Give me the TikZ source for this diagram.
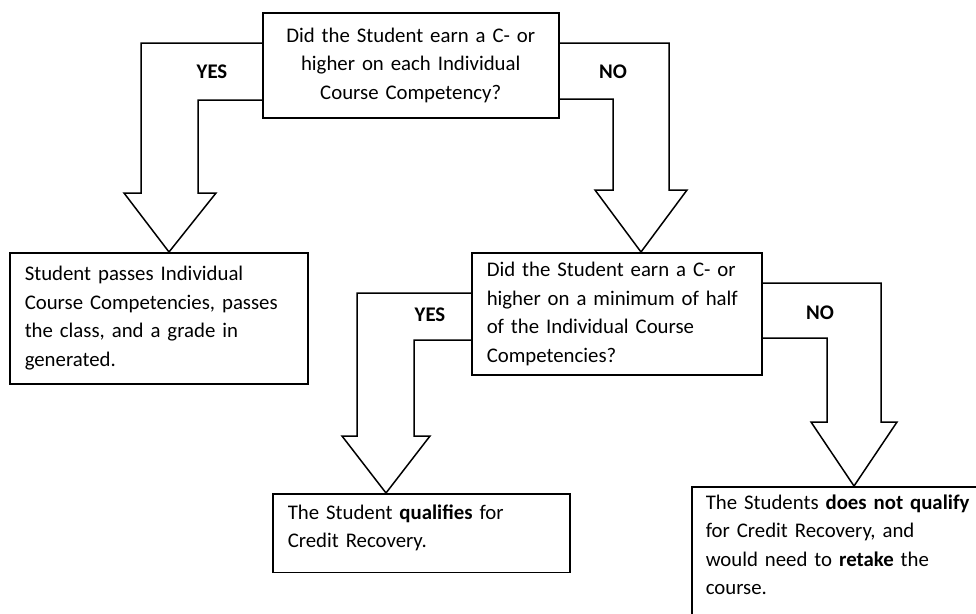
\documentclass[tikz,border=0pt]{standalone}
\usepackage{fontspec}
\setmainfont{Carlito}
\begin{document}
\begin{tikzpicture}[x=1pt,y=-1pt]
	\tikzstyle{box} = [draw, line width=1.5pt, rectangle, anchor=north west, inner xsep=15pt, align=left, font=\fontsize{20.8}{28.5}\selectfont]
	\tikzstyle{blk} = [line width=1.5pt]
	\tikzstyle{ans} = [font=\fontsize{20.8}{28.5}\selectfont\bfseries]
	\fill[white] (0,0) rectangle (976,613);
	\useasboundingbox (0,0) rectangle (976,613);

	\node[box, align=center, text width=266pt, minimum height=105pt] (q1) at (262,12) {Did the Student earn a C- or\\ higher on each Individual\\ Course Competency?};
	\node[box, text width=268pt, minimum height=131pt] (pass) at (9,252) {Student passes Individual\\ Course Competencies, passes\\ the class, and a grade in\\ generated.};
	\node[box, text width=260pt, minimum height=122pt] (q2) at (471,252) {Did the Student earn a C- or\\ higher on a minimum of half\\ of the Individual Course\\ Competencies?};
	\node[box, text width=267pt, inner ysep=11pt, text depth=42pt] (cr) at (272,493) {The Student \textbf{qualifies} for\\ Credit Recovery.};
	\node[box, inner xsep=14pt, inner ysep=8pt, text width=272pt] (retake) at (691,486) {The Students \textbf{does not qualify}\\ for Credit Recovery, and\\ would need to \textbf{retake} the\\ course.\\ \mbox{}\\ \mbox{}};

	\node[ans] (yes1) at (212,72) {YES};
	\node[ans] (no1) at (613,72) {NO};
	\node[ans] (yes2) at (430,315) {YES};
	\node[ans] (no2) at (820,313) {NO};

	\draw[blk] (q1.west |- 0,43) -- (141,43) -- (141,193) -- (124,193) -- (169,0 |- pass.north) -- (216,193) -- (198,193) -- (198,100) -- (q1.west |- 0,100);
	\draw[blk] (q1.east |- 0,43) -- (669,43) -- (669,190) -- (687,190) -- (641,0 |- q2.north) -- (595,190) -- (613,190) -- (613,99) -- (q1.east |- 0,99);
	\draw[blk] (q2.west |- 0,293) -- (357,293) -- (357,436) -- (342,436) -- (386,0 |- cr.north) -- (430,436) -- (414,436) -- (414,340) -- (q2.west |- 0,340);
	\draw[blk] (q2.east |- 0,283) -- (881,283) -- (881,422) -- (897,422) -- (854,0 |- retake.north) -- (811,422) -- (827,422) -- (827,338) -- (q2.east |- 0,338);
\end{tikzpicture}
\end{document}
